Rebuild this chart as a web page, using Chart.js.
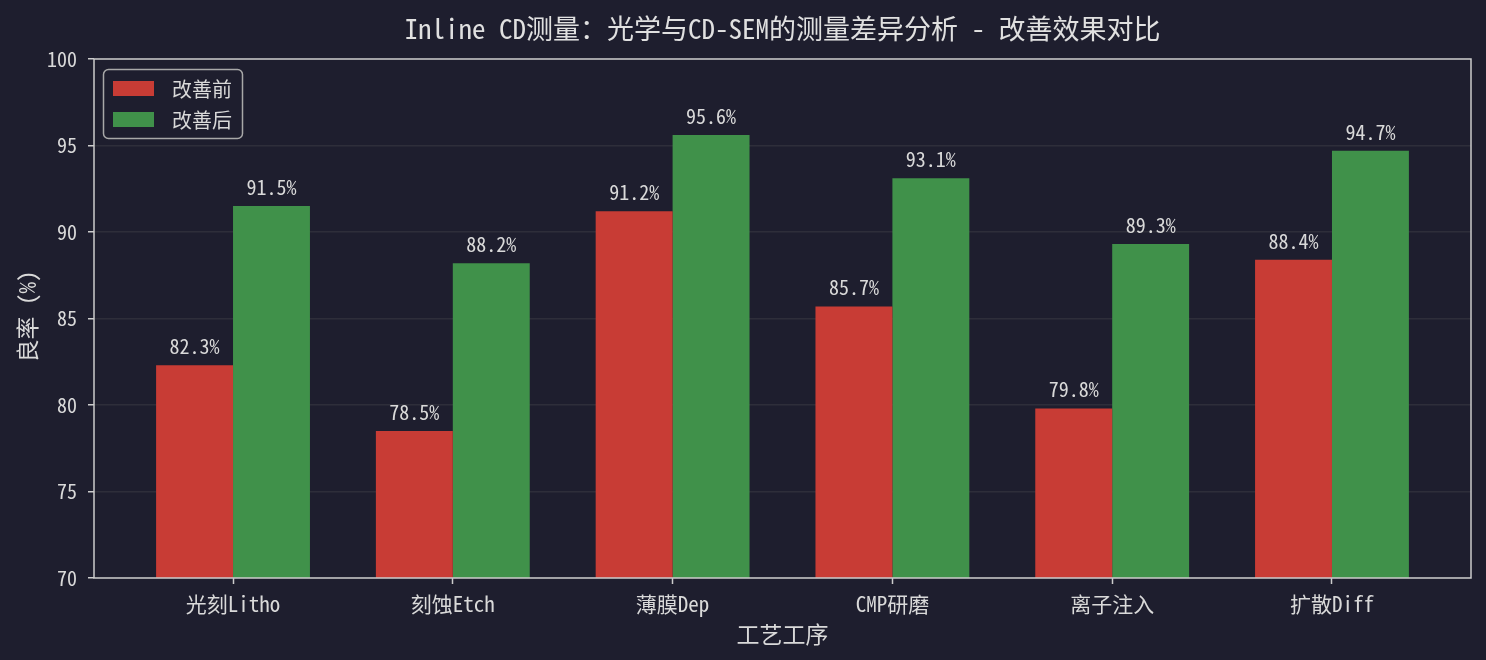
<!DOCTYPE html>
<html><head><meta charset="utf-8">
<script src="https://cdn.jsdelivr.net/npm/chart.js@4.4.0/dist/chart.umd.min.js"></script>
<style>html,body{margin:0;padding:0;background:#1e1e2e;overflow:hidden}#wrap{width:1486px;height:660px;position:relative}</style>
</head><body><div id="wrap"><canvas id="c"></canvas></div>
<script>
const categories = ['光刻Litho','刻蚀Etch','薄膜Dep','CMP研磨','离子注入','扩散Diff'];
const beforeValues = [82.3, 78.5, 91.2, 85.7, 79.8, 88.4];
const afterValues = [91.5, 88.2, 95.6, 93.1, 89.3, 94.7];
const seriesNames = ['改善前', '改善后'];
const yTicks = [70, 75, 80, 85, 90, 95, 100];
const titleText = 'Inline CD测量：光学与CD-SEM的测量差异分析 - 改善效果对比';
const xTitle = '工艺工序';
const yTitle = '良率 (%)';

const FONT = '"Noto Sans Mono CJK SC", "Noto Sans CJK SC", sans-serif';
const TEXT = '#d9d9d9';
const FRAME = '#cccccc';
const RED = '#c83c35';
const GREEN = '#40914a';

const overlay = {
  id: 'overlay',
  afterDraw(chart) {
    const ctx = chart.ctx, a = chart.chartArea;
    ctx.save();
    // frame
    ctx.strokeStyle = FRAME; ctx.lineWidth = 1.5;
    ctx.strokeRect(a.left, a.top, a.right - a.left, a.bottom - a.top);
    // value labels
    ctx.fillStyle = TEXT; ctx.font = '20px ' + FONT;
    ctx.textAlign = 'center'; ctx.textBaseline = 'alphabetic';
    chart.data.datasets.forEach((ds, d) => {
      chart.getDatasetMeta(d).data.forEach((bar, i) => {
        ctx.fillText(ds.data[i].y.toFixed(1) + '%', bar.x, bar.y - 11);
      });
    });
    // title
    ctx.fillStyle = '#e0e0e0'; ctx.font = '27px ' + FONT; ctx.textBaseline = 'middle';
    ctx.fillText(titleText, (a.left + a.right) / 2, 29);
    // axis titles
    ctx.fillStyle = TEXT; ctx.font = '23px ' + FONT;
    ctx.fillText(xTitle, (a.left + a.right) / 2, 634);
    ctx.save();
    ctx.translate(27, (a.top + a.bottom) / 2 - 2);
    ctx.rotate(-Math.PI / 2);
    ctx.fillText(yTitle, 0, 0);
    ctx.restore();
    // legend
    const bx = 103.5, by = 69.5, bw = 139, bh = 69;
    ctx.beginPath();
    ctx.roundRect(bx, by, bw, bh, 5);
    ctx.fillStyle = 'rgba(30,30,46,0.8)'; ctx.fill();
    ctx.strokeStyle = '#a8a8a8'; ctx.lineWidth = 1.5; ctx.stroke();
    ctx.font = '20px ' + FONT; ctx.textAlign = 'left'; ctx.textBaseline = 'middle';
    chart.data.datasets.forEach((ds, d) => {
      const y = 81 + d * 31;
      ctx.fillStyle = ds.backgroundColor;
      ctx.fillRect(113, y, 41, 15);
      ctx.fillStyle = TEXT;
      ctx.fillText(ds.label, 172, y + 8);
    });
    ctx.restore();
  }
};

new Chart(document.getElementById('c'), {
  type: 'bar',
  data: {
    datasets: [
      { label: seriesNames[0], data: beforeValues.map((v, i) => ({ x: i, y: v })), backgroundColor: RED },
      { label: seriesNames[1], data: afterValues.map((v, i) => ({ x: i, y: v })), backgroundColor: GREEN }
    ]
  },
  options: {
    responsive: true, maintainAspectRatio: false, animation: false, devicePixelRatio: 1,
    layout: { padding: { top: 59, right: 15, left: 0, bottom: 0 } },
    datasets: { bar: { categoryPercentage: 0.7, barPercentage: 1.0, borderWidth: 0 } },
    plugins: { legend: { display: false }, title: { display: false }, tooltip: { enabled: false } },
    scales: {
      x: {
        type: 'linear', min: -0.6325, max: 5.6325, offset: false,
        afterBuildTicks: s => { s.ticks = categories.map((_, i) => ({ value: i })); },
        afterFit: s => { s.height = 82; },
        ticks: { callback: v => categories[v], color: TEXT, font: { family: FONT, size: 21 }, padding: 7, autoSkip: false, maxRotation: 0 },
        grid: { drawOnChartArea: false, drawTicks: true, tickLength: 6, tickColor: FRAME, tickWidth: 1.5, offset: false },
        border: { display: false }
      },
      y: {
        min: 70, max: 100, z: 1,
        afterBuildTicks: s => { s.ticks = yTicks.map(v => ({ value: v })); },
        afterFit: s => { s.width = 94; },
        ticks: { color: TEXT, font: { family: FONT, size: 20 }, padding: 11 },
        grid: { color: 'rgba(85,85,85,0.3)', lineWidth: 1.5, tickLength: 6, tickColor: FRAME, tickWidth: 1.5 },
        border: { display: false }
      }
    }
  },
  plugins: [overlay]
});
</script></body></html>
